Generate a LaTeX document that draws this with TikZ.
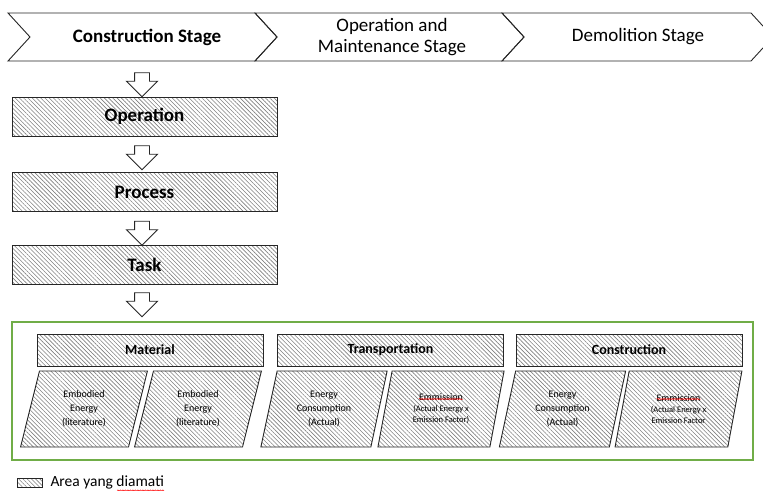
\documentclass[tikz,border=0pt]{standalone}
\usepackage{fontspec}
\setmainfont{Carlito}
\usepackage{tikz}
\newcommand{\stagechevron}[2]% left x, right x
{(#1,13) -- (#2,13) -- ++(22,24) -- ++(-22,24) -- (#1,61) -- ++(22,-24) -- cycle
}
\definecolor{framegreen}{RGB}{112,173,71}
\usetikzlibrary{shapes.geometric,shapes.arrows,patterns.meta,decorations.pathmorphing,calc}
\usetikzlibrary{positioning}

\begin{document}
\begin{tikzpicture}[x=1pt,y=-1pt,
	hatched/.style={draw=black!85, line width=0.9pt, pattern={Lines[angle=-45,distance=3pt,line width=0.6pt]}, pattern color=black!50},
	levelbox/.style={hatched, minimum width=265pt, minimum height=39pt, font=\fontsize{19}{21}\selectfont\bfseries},
	groupbox/.style={hatched, minimum width=226pt, minimum height=32pt, font=\fontsize{14}{16}\selectfont\bfseries},
	itembox/.style={hatched, trapezium, trapezium left angle=76, trapezium right angle=104, trapezium stretches=true, minimum width=127pt, minimum height=76pt, align=center, font=\fontsize{10}{14}\selectfont},
	downarrow/.style={single arrow, draw=black!85, line width=0.9pt, fill=white, rotate=-90, minimum height=24pt, minimum width=30pt, single arrow head extend=8pt, inner xsep=0pt, inner ysep=7pt},
	stagetext/.style={align=center, font=\fontsize{19}{21}\selectfont},
	spellwave/.style={red, line width=0.5pt, decorate, decoration={snake, amplitude=0.6pt, segment length=2.5pt}}]
	\clip (0,0) rectangle (763,490);
	\draw[line width=0.9pt, draw=black!85] \stagechevron{8}{255};
	\draw[line width=0.9pt, draw=black!85] \stagechevron{255}{502};
	\draw[line width=0.9pt, draw=black!85] \stagechevron{502}{751};
	\node[stagetext, font=\fontsize{19}{21}\selectfont\bfseries] (build) at (147,37){Construction Stage};
	\node[stagetext] (use) at (392,37){Operation and\\Maintenance Stage};
	\node[stagetext] (demolish) at (638,37){Demolition Stage};
	\node[downarrow] (arrow1) at (142,81){};
	\node[levelbox] (operation) at (144.5,116.5){Operation};
	\node[downarrow] (arrow2) at (142,154){};
	\node[levelbox] (process) at (144.5,192){Process};
	\node[downarrow] (arrow3) at (142,229.5){};
	\node[levelbox] (task) at (144.5,265){Task};
	\node[downarrow] (arrow4) at (142,301){};
	\node[draw=framegreen, line width=1.5pt, minimum width=741pt, minimum height=138pt] (observed) at (382.5,391){};
	\node[groupbox] (material) at (150,350){Material};
	\node[groupbox] (transport) at (390.5,350){Transportation};
	\node[groupbox] (construct) at (629,350){Construction};
	\node[itembox] (mat1) at (84,409){Embodied\\Energy\\(literature)};
	\node[itembox] (mat2) at (198,409){Embodied\\Energy\\(literature)};
	\node[itembox] (trans1) at (324,409){Energy\\Consumption\\(Actual)};
	\node[itembox, font=\fontsize{8.5}{11}\selectfont] (trans2) at (441,409){{\fontsize{10}{12}\selectfont Emmission}\\(Actual Energy x\\Emission Factor)};
	\node[itembox] (cons1) at (562.5,409){Energy\\Consumption\\(Actual)};
	\node[itembox, font=\fontsize{8.5}{11}\selectfont] (cons2) at (678.5,409){{\fontsize{10}{12}\selectfont Emmission}\\(Actual Energy x\\Emission Factor};
	\node[hatched, line width=0.6pt, minimum width=25pt, minimum height=9pt, inner sep=0pt] (key) at (29.5,482.5){};
	\node[right=8pt of key, inner sep=0pt, font=\fontsize{15.5}{17}\selectfont] (keytext){Area yang diamati};
	\draw[spellwave] ($(trans2.center)+(-22,-10)$) -- ($(trans2.center)+(22,-10)$);
	\draw[spellwave] ($(cons2.center)+(-22,-10)$) -- ($(cons2.center)+(22,-10)$);
	\draw[spellwave] ($(keytext.east)+(-47,8)$) -- ($(keytext.east)+(0,8)$);
\end{tikzpicture}
\end{document}
